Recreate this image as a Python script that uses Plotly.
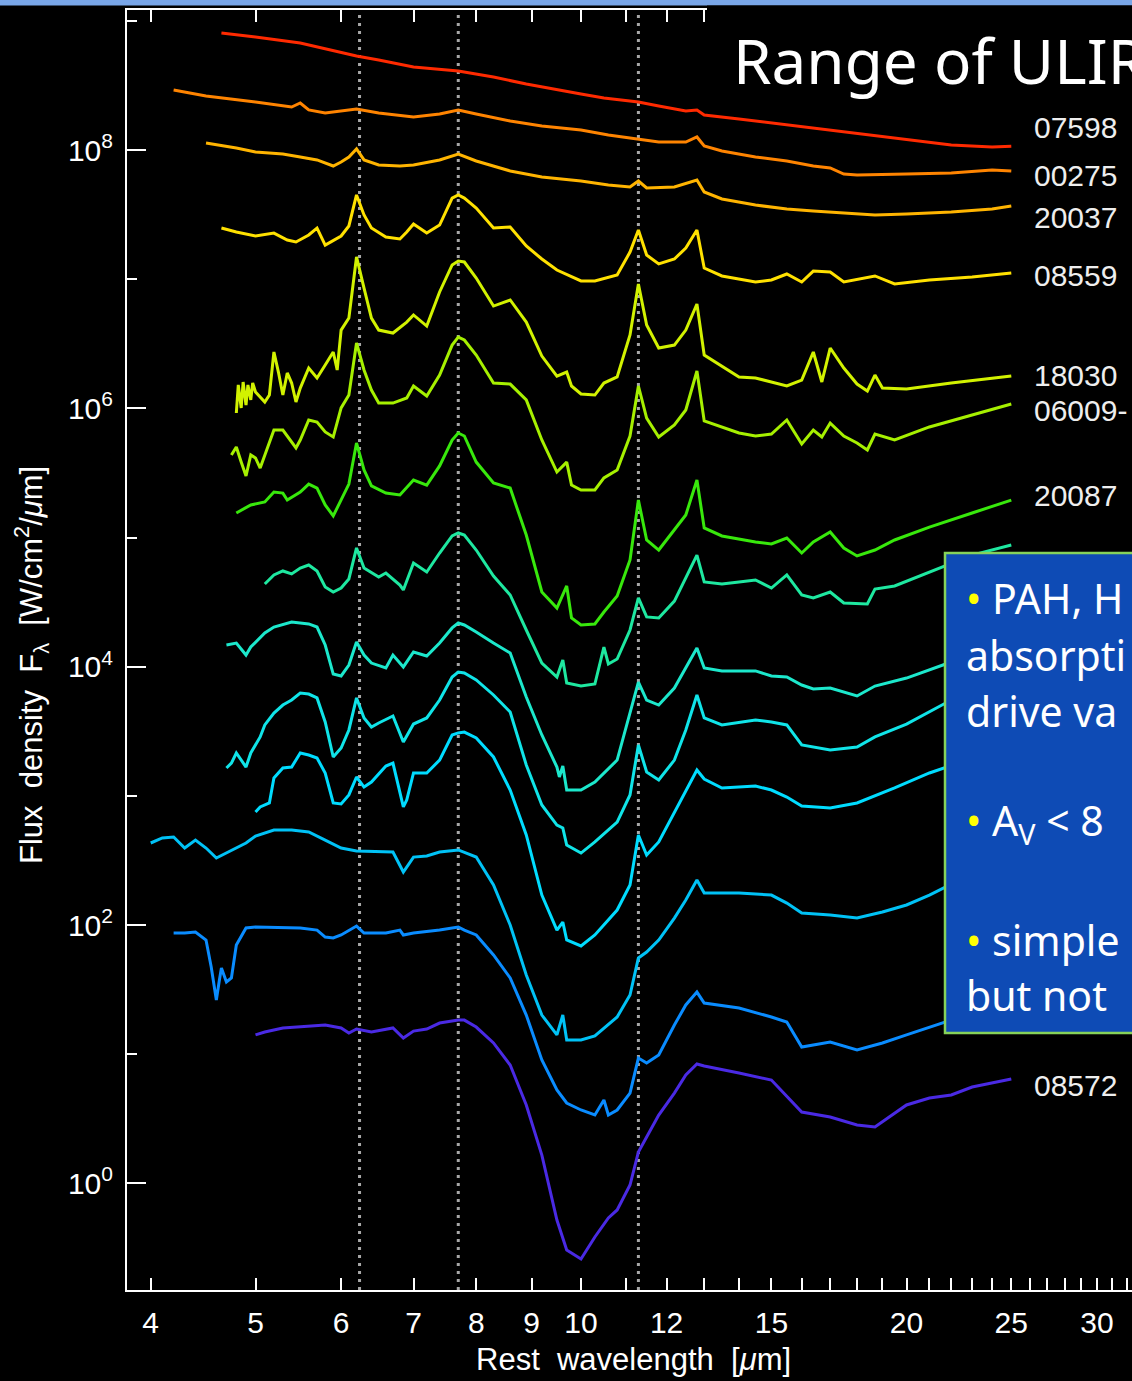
import plotly.graph_objects as go

# ---------------- data (wavelength in micron, log10 of F_lambda in W/cm2/micron) ----------------
wl_07598 = [4.65, 5.0, 5.5, 6.0, 6.2, 6.5, 7.0, 7.7, 8.3, 8.9, 9.5, 10.0, 10.5, 11.3, 11.8, 12.5, 12.8, 13.0,
            14.0, 15.0, 16.0, 17.0, 18.0, 20.0, 22.0, 24.0, 25.0]
lf_07598 = [8.906, 8.875, 8.828, 8.759, 8.728, 8.697, 8.643, 8.612, 8.565, 8.511, 8.465, 8.434, 8.403, 8.372,
            8.341, 8.302, 8.310, 8.271, 8.240, 8.209, 8.178, 8.155, 8.124, 8.077, 8.039, 8.023, 8.030]

wl_00275 = [4.2, 4.5, 5.0, 5.4, 5.5, 5.6, 5.8, 6.2, 6.5, 7.0, 7.4, 7.7, 8.0, 8.6, 9.2, 10.0, 10.6, 11.3, 11.8,
            12.5, 12.8, 13.0, 13.5, 14.5, 15.5, 16.4, 17.0, 17.5, 18.0, 20.0, 22.0, 24.0, 25.0]
lf_00275 = [8.465, 8.418, 8.371, 8.333, 8.364, 8.310, 8.286, 8.317, 8.286, 8.255, 8.279, 8.310, 8.279, 8.224,
            8.186, 8.155, 8.116, 8.085, 8.062, 8.062, 8.101, 8.031, 7.992, 7.946, 7.915, 7.876, 7.861, 7.814,
            7.806, 7.814, 7.822, 7.845, 7.837]

wl_20037 = [4.5, 4.8, 5.0, 5.3, 5.5, 5.7, 5.9, 6.0, 6.1, 6.2, 6.3, 6.5, 6.8, 7.0, 7.4, 7.7, 8.0, 8.6, 9.2, 10.0,
            10.6, 11.1, 11.3, 11.5, 12.2, 12.8, 13.0, 13.5, 14.5, 15.5, 16.4, 17.5, 18.7, 20.0, 22.0, 24.0, 25.0]
lf_20037 = [8.054, 8.015, 7.984, 7.969, 7.946, 7.923, 7.876, 7.907, 7.946, 8.008, 7.923, 7.884, 7.876, 7.884,
            7.923, 7.969, 7.915, 7.838, 7.791, 7.760, 7.729, 7.714, 7.760, 7.706, 7.714, 7.768, 7.675, 7.621,
            7.574, 7.543, 7.528, 7.512, 7.497, 7.505, 7.520, 7.543, 7.566]

wl_08559 = [4.65, 4.8, 5.0, 5.2, 5.35, 5.45, 5.6, 5.7, 5.8, 6.0, 6.1, 6.2, 6.3, 6.4, 6.6, 6.8, 6.9, 7.0, 7.2, 7.4,
            7.6, 7.7, 7.8, 8.0, 8.3, 8.6, 8.9, 9.2, 9.5, 9.8, 10.0, 10.3, 10.8, 11.1, 11.3, 11.5, 11.8, 12.2,
            12.5, 12.8, 13.0, 13.5, 14.5, 15.0, 15.5, 16.0, 16.4, 17.0, 17.5, 18.7, 19.5, 21.0, 23.0, 25.0]
lf_08559 = [7.396, 7.365, 7.334, 7.357, 7.303, 7.288, 7.342, 7.396, 7.264, 7.334, 7.412, 7.652, 7.497, 7.396,
            7.326, 7.311, 7.365, 7.427, 7.357, 7.419, 7.628, 7.652, 7.628, 7.551, 7.396, 7.404, 7.257, 7.156,
            7.071, 7.017, 6.986, 6.986, 7.032, 7.210, 7.381, 7.187, 7.118, 7.156, 7.241, 7.381, 7.086, 7.025,
            6.978, 6.994, 7.040, 6.978, 7.063, 7.056, 6.978, 7.025, 6.963, 6.994, 7.017, 7.048]

wl_18030 = [4.8, 4.82, 4.85, 4.87, 4.9, 4.92, 4.95, 4.97, 5.0, 5.1, 5.15, 5.2, 5.25, 5.3, 5.35, 5.4, 5.45, 5.5,
            5.6, 5.7, 5.8, 5.9, 5.95, 6.0, 6.1, 6.2, 6.3, 6.4, 6.5, 6.7, 6.9, 7.0, 7.2, 7.4, 7.6, 7.7, 7.8, 8.0,
            8.3, 8.6, 8.9, 9.2, 9.5, 9.7, 9.8, 10.0, 10.3, 10.5, 10.8, 11.1, 11.3, 11.5, 11.8, 12.2, 12.5, 12.8,
            13.0, 13.5, 14.0, 14.5, 15.0, 15.5, 16.0, 16.4, 16.7, 17.0, 17.5, 18.0, 18.4, 18.7, 19.0, 20.0, 22.0,
            24.0, 25.0]
lf_18030 = [5.964, 6.181, 6.003, 6.204, 6.026, 6.181, 6.065, 6.196, 6.126, 6.049, 6.103, 6.436, 6.281, 6.103,
            6.274, 6.196, 6.049, 6.157, 6.312, 6.235, 6.335, 6.436, 6.297, 6.606, 6.699, 7.172, 6.931, 6.699,
            6.606, 6.583, 6.668, 6.723, 6.637, 6.901, 7.110, 7.141, 7.133, 7.009, 6.792, 6.839, 6.668, 6.405,
            6.250, 6.281, 6.173, 6.111, 6.103, 6.196, 6.243, 6.568, 6.963, 6.645, 6.467, 6.490, 6.606, 6.808,
            6.413, 6.328, 6.243, 6.235, 6.204, 6.173, 6.219, 6.436, 6.204, 6.467, 6.312, 6.188, 6.134, 6.258,
            6.157, 6.150, 6.196, 6.235, 6.250]

wl_06009 = [4.75, 4.8, 4.85, 4.9, 4.95, 5.0, 5.05, 5.1, 5.2, 5.3, 5.4, 5.45, 5.5, 5.6, 5.7, 5.8, 5.9, 6.0, 6.1,
            6.2, 6.3, 6.4, 6.5, 6.7, 6.9, 7.0, 7.2, 7.4, 7.6, 7.7, 7.8, 8.0, 8.3, 8.6, 8.9, 9.2, 9.5, 9.7, 9.8,
            10.0, 10.3, 10.5, 10.8, 11.1, 11.3, 11.5, 11.8, 12.2, 12.5, 12.8, 13.0, 13.5, 14.0, 14.5, 15.0, 15.5,
            16.0, 16.4, 16.7, 17.0, 17.5, 18.0, 18.4, 18.7, 19.5, 21.0, 23.0, 25.0]
lf_06009 = [5.639, 5.701, 5.584, 5.476, 5.639, 5.616, 5.538, 5.639, 5.832, 5.832, 5.732, 5.693, 5.755, 5.910,
            5.894, 5.817, 5.778, 6.003, 6.103, 6.506, 6.297, 6.142, 6.041, 6.041, 6.080, 6.173, 6.096, 6.258,
            6.490, 6.552, 6.529, 6.413, 6.196, 6.188, 6.065, 5.755, 5.507, 5.584, 5.406, 5.368, 5.368, 5.461,
            5.522, 5.786, 6.173, 5.925, 5.778, 5.871, 5.987, 6.289, 5.902, 5.856, 5.809, 5.786, 5.801, 5.910,
            5.724, 5.832, 5.778, 5.886, 5.786, 5.732, 5.678, 5.801, 5.755, 5.856, 5.948, 6.034]

wl_20087 = [4.8, 4.95, 5.1, 5.2, 5.3, 5.35, 5.5, 5.6, 5.7, 5.8, 5.9, 6.0, 6.1, 6.2, 6.3, 6.4, 6.6, 6.8, 7.0, 7.2,
            7.4, 7.6, 7.7, 7.8, 8.0, 8.3, 8.6, 8.9, 9.2, 9.5, 9.7, 9.8, 10.0, 10.3, 10.5, 10.8, 11.1, 11.3, 11.5,
            11.8, 12.2, 12.5, 12.8, 13.0, 13.5, 14.5, 15.0, 15.5, 16.0, 16.4, 17.0, 17.5, 18.0, 18.7, 19.5, 21.0,
            23.0, 25.0]
lf_20087 = [5.190, 5.252, 5.275, 5.352, 5.344, 5.290, 5.352, 5.414, 5.383, 5.252, 5.167, 5.290, 5.414, 5.732,
            5.523, 5.399, 5.344, 5.329, 5.445, 5.406, 5.554, 5.755, 5.809, 5.786, 5.584, 5.422, 5.383, 5.019,
            4.578, 4.454, 4.625, 4.377, 4.323, 4.331, 4.423, 4.547, 4.826, 5.290, 4.981, 4.903, 5.058, 5.174,
            5.445, 5.074, 5.012, 4.965, 4.950, 4.996, 4.880, 4.965, 5.043, 4.919, 4.857, 4.903, 4.981, 5.081,
            5.190, 5.290]

wl_spec8 = [5.1, 5.2, 5.3, 5.4, 5.5, 5.6, 5.7, 5.8, 5.9, 6.0, 6.1, 6.2, 6.3, 6.5, 6.6, 6.8, 6.85, 7.0, 7.2, 7.4,
            7.6, 7.7, 7.8, 8.0, 8.3, 8.6, 8.9, 9.2, 9.5, 9.62, 9.7, 10.0, 10.3, 10.5, 10.6, 10.8, 11.1, 11.3,
            11.5, 11.8, 12.2, 12.5, 12.8, 13.0, 13.5, 14.0, 14.5, 15.0, 15.5, 16.0, 16.4, 17.0, 17.5, 18.4, 18.7,
            19.5, 21.0, 23.0, 25.0]
lf_spec8 = [4.640, 4.710, 4.741, 4.718, 4.764, 4.787, 4.741, 4.617, 4.578, 4.609, 4.679, 4.919, 4.764, 4.694,
            4.725, 4.632, 4.594, 4.803, 4.733, 4.880, 5.012, 5.035, 5.019, 4.903, 4.702, 4.555, 4.284, 4.028,
            3.920, 4.052, 3.874, 3.850, 3.866, 4.152, 4.021, 4.059, 4.284, 4.532, 4.385, 4.377, 4.508, 4.686,
            4.864, 4.656, 4.640, 4.656, 4.671, 4.609, 4.710, 4.555, 4.532, 4.578, 4.493, 4.485, 4.601, 4.625,
            4.733, 4.864, 4.942]

wl_spec9 = [4.7, 4.8, 4.9, 4.95, 5.1, 5.2, 5.4, 5.6, 5.7, 5.8, 5.9, 6.0, 6.1, 6.2, 6.3, 6.4, 6.6, 6.7, 6.85, 7.0,
            7.2, 7.4, 7.6, 7.7, 7.8, 8.0, 8.3, 8.6, 8.9, 9.2, 9.5, 9.55, 9.62, 9.7, 10.0, 10.3, 10.8, 11.1, 11.3,
            11.5, 11.8, 12.2, 12.5, 12.8, 13.0, 13.5, 14.5, 15.0, 15.5, 16.0, 16.4, 17.0, 18.0, 18.7, 20.0, 22.0,
            25.0]
lf_spec9 = [4.168, 4.183, 4.090, 4.152, 4.261, 4.307, 4.346, 4.331, 4.307, 4.168, 3.943, 3.928, 4.013, 4.191,
            4.090, 4.028, 3.990, 4.090, 3.998, 4.114, 4.083, 4.183, 4.300, 4.338, 4.323, 4.269, 4.183, 4.106,
            3.765, 3.471, 3.223, 3.146, 3.231, 3.045, 3.045, 3.107, 3.277, 3.634, 3.881, 3.742, 3.703, 3.835,
            3.990, 4.145, 3.990, 3.967, 3.967, 3.928, 3.920, 3.858, 3.827, 3.835, 3.773, 3.850, 3.912, 4.036,
            4.222]

wl_spec10 = [4.7, 4.75, 4.8, 4.9, 4.95, 5.05, 5.1, 5.2, 5.3, 5.4, 5.5, 5.6, 5.7, 5.8, 5.9, 6.0, 6.1, 6.2, 6.3,
             6.4, 6.5, 6.7, 6.85, 7.0, 7.2, 7.4, 7.6, 7.7, 7.8, 8.0, 8.3, 8.6, 8.9, 9.2, 9.5, 9.62, 9.7, 10.0,
             10.3, 10.8, 11.1, 11.3, 11.5, 11.8, 12.2, 12.5, 12.8, 13.0, 13.5, 14.5, 15.0, 15.5, 16.0, 17.0, 18.0,
             18.7, 20.0, 22.0, 25.0]
lf_spec10 = [3.216, 3.254, 3.332, 3.223, 3.332, 3.456, 3.549, 3.641, 3.703, 3.742, 3.796, 3.788, 3.758, 3.572,
             3.301, 3.370, 3.510, 3.758, 3.603, 3.533, 3.564, 3.618, 3.417, 3.556, 3.603, 3.742, 3.920, 3.959,
             3.951, 3.897, 3.781, 3.649, 3.239, 2.929, 2.774, 2.751, 2.619, 2.557, 2.643, 2.797, 3.007, 3.394,
             3.185, 3.123, 3.277, 3.510, 3.781, 3.603, 3.549, 3.587, 3.572, 3.549, 3.394, 3.355, 3.378, 3.456,
             3.556, 3.742, 3.897]

wl_spec11 = [5.0, 5.05, 5.15, 5.2, 5.3, 5.4, 5.5, 5.6, 5.7, 5.8, 5.9, 6.0, 6.1, 6.2, 6.3, 6.4, 6.6, 6.7, 6.85,
             6.9, 7.0, 7.2, 7.4, 7.6, 7.7, 7.8, 8.0, 8.3, 8.6, 8.9, 9.2, 9.5, 9.62, 9.7, 10.0, 10.3, 10.8, 11.1,
             11.3, 11.5, 11.8, 12.2, 12.5, 12.8, 13.0, 13.5, 14.5, 15.0, 15.5, 16.0, 17.0, 18.0, 19.5, 21.0, 25.0]
lf_spec11 = [2.875, 2.914, 2.945, 3.138, 3.216, 3.223, 3.332, 3.316, 3.293, 3.177, 2.945, 2.937, 3.007, 3.146,
             3.068, 3.107, 3.231, 3.254, 2.914, 2.968, 3.177, 3.177, 3.277, 3.471, 3.487, 3.494, 3.448, 3.301,
             3.045, 2.697, 2.232, 1.961, 2.023, 1.884, 1.838, 1.923, 2.116, 2.310, 2.697, 2.542, 2.643, 2.875,
             3.045, 3.200, 3.130, 3.061, 3.076, 3.045, 2.991, 2.921, 2.906, 2.945, 3.061, 3.177, 3.394]

wl_spec12 = [4.0, 4.1, 4.2, 4.3, 4.4, 4.5, 4.6, 4.7, 4.8, 4.9, 5.0, 5.2, 5.4, 5.6, 5.8, 6.0, 6.2, 6.5, 6.7, 6.85,
             7.0, 7.2, 7.4, 7.7, 8.0, 8.3, 8.6, 8.9, 9.2, 9.5, 9.62, 9.7, 10.0, 10.3, 10.8, 11.1, 11.3, 11.5,
             11.8, 12.2, 12.5, 12.8, 13.0, 14.0, 15.0, 15.5, 16.0, 17.0, 18.0, 19.0, 20.0, 21.0, 22.0, 25.0]
lf_spec12 = [2.635, 2.674, 2.681, 2.596, 2.658, 2.596, 2.519, 2.557, 2.596, 2.635, 2.689, 2.735, 2.735, 2.720,
             2.658, 2.596, 2.573, 2.565, 2.565, 2.410, 2.526, 2.534, 2.565, 2.581, 2.526, 2.310, 2.000, 1.613,
             1.303, 1.149, 1.303, 1.110, 1.110, 1.141, 1.288, 1.458, 1.745, 1.791, 1.884, 2.054, 2.194, 2.348,
             2.248, 2.248, 2.232, 2.170, 2.093, 2.077, 2.054, 2.101, 2.155, 2.232, 2.317, 2.503]

wl_spec13 = [4.2, 4.3, 4.4, 4.5, 4.55, 4.6, 4.63, 4.65, 4.7, 4.75, 4.8, 4.9, 5.0, 5.5, 5.7, 5.8, 5.9, 6.0, 6.2,
             6.3, 6.6, 6.8, 6.85, 7.0, 7.4, 7.7, 7.8, 8.0, 8.3, 8.6, 8.9, 9.2, 9.5, 9.7, 10.0, 10.3, 10.5, 10.6,
             10.8, 11.1, 11.3, 11.5, 11.8, 12.2, 12.5, 12.8, 13.0, 14.0, 15.0, 15.5, 16.0, 17.0, 18.0, 19.0, 20.0,
             22.0, 25.0]
lf_spec13 = [1.938, 1.938, 1.946, 1.884, 1.675, 1.419, 1.574, 1.667, 1.559, 1.590, 1.845, 1.977, 1.985, 1.977,
             1.961, 1.907, 1.900, 1.923, 1.992, 1.938, 1.938, 1.961, 1.923, 1.938, 1.961, 1.985, 1.961, 1.923,
             1.768, 1.590, 1.303, 0.955, 0.723, 0.622, 0.568, 0.529, 0.645, 0.529, 0.568, 0.699, 0.970, 0.932,
             0.994, 1.226, 1.381, 1.481, 1.396, 1.357, 1.288, 1.249, 1.055, 1.094, 1.032, 1.087, 1.149, 1.264,
             1.419]

wl_08572 = [5.0, 5.1, 5.3, 5.6, 5.8, 6.0, 6.1, 6.2, 6.4, 6.7, 6.85, 7.0, 7.2, 7.4, 7.7, 7.8, 8.0, 8.3, 8.6, 8.9,
            9.2, 9.5, 9.7, 10.0, 10.3, 10.6, 10.8, 11.1, 11.3, 11.5, 11.8, 12.2, 12.5, 12.8, 13.0, 14.0, 15.0,
            16.0, 17.0, 18.0, 18.7, 20.0, 21.0, 22.0, 23.0, 25.0]
lf_08572 = [1.149, 1.172, 1.203, 1.218, 1.226, 1.203, 1.164, 1.195, 1.172, 1.203, 1.125, 1.179, 1.195, 1.241,
            1.264, 1.264, 1.210, 1.087, 0.916, 0.607, 0.219, -0.284, -0.516, -0.586, -0.415, -0.268, -0.206,
            -0.013, 0.242, 0.359, 0.529, 0.699, 0.839, 0.924, 0.909, 0.854, 0.800, 0.552, 0.514, 0.452, 0.436,
            0.607, 0.661, 0.684, 0.746, 0.808]

spectrum_names = ["07598", "00275", "20037", "08559", "18030", "06009", "20087",
                  "spec8", "spec9", "spec10", "spec11", "spec12", "spec13", "08572"]
spectrum_wl = [wl_07598, wl_00275, wl_20037, wl_08559, wl_18030, wl_06009, wl_20087,
               wl_spec8, wl_spec9, wl_spec10, wl_spec11, wl_spec12, wl_spec13, wl_08572]
spectrum_lf = [lf_07598, lf_00275, lf_20037, lf_08559, lf_18030, lf_06009, lf_20087,
               lf_spec8, lf_spec9, lf_spec10, lf_spec11, lf_spec12, lf_spec13, lf_08572]
spectrum_colors = ["#ff2a00", "#ff8400", "#ffb400", "#ffe100", "#d2f200", "#a6f000", "#38e80c",
                   "#1ee8a0", "#1ce8cc", "#10e4e8", "#00dcff", "#00c2f6", "#0a8cff", "#4a2ae4"]

right_labels = ["07598", "00275", "20037", "08559", "18030", "06009-", "20087", "08572"]

feature_wavelengths = [6.24, 7.7, 11.3]

x_major = [5, 10, 15, 20, 25, 30]
x_labeled = [4, 5, 6, 7, 8, 9, 10, 12, 15, 20, 25, 30]
x_minor = [4, 6, 7, 8, 9, 11, 12, 13, 14, 16, 17, 18, 19, 21, 22, 23, 24, 26, 27, 28, 29, 31, 32]
y_major = [1e0, 1e2, 1e4, 1e6, 1e8]
y_major_text = ["10<sup>0</sup>", "10<sup>2</sup>", "10<sup>4</sup>", "10<sup>6</sup>", "10<sup>8</sup>"]
y_minor = [1e1, 1e3, 1e5, 1e7, 1e9]

for w, v in zip(spectrum_wl, spectrum_lf):
    assert len(w) == len(v), (len(w), len(v))

# ---------------- layout geometry ----------------
W, H = 1132, 1381
ML, MR, MT, MB = 127, 0, 10, 91
PW, PH = W - ML - MR, H - MT - MB
X_RANGE = [0.58013, 1.50957]
Y_RANGE = [-0.8256, 9.0839]


def px(x):
    return (x - ML) / PW


def py(y):
    return (H - MB - y) / PH


fig = go.Figure()

# dotted feature lines (drawn first, below spectra)
for fw in feature_wavelengths:
    fig.add_trace(go.Scatter(x=[fw, fw], y=[10 ** Y_RANGE[0], 10 ** Y_RANGE[1]], mode="lines",
                             line=dict(color="#a8a8a8", width=3, dash="3px,5px"),
                             hoverinfo="skip", showlegend=False))

for name, w, v, c in zip(spectrum_names, spectrum_wl, spectrum_lf, spectrum_colors):
    fig.add_trace(go.Scatter(x=w, y=[10 ** t for t in v], mode="lines", name=name,
                             line=dict(color=c, width=3), showlegend=False))

tickfont = dict(family="Liberation Sans", size=30, color="white")

fig.update_layout(
    width=W, height=H,
    paper_bgcolor="black", plot_bgcolor="black",
    margin=dict(l=ML, r=MR, t=MT, b=MB, pad=0),
    showlegend=False,
    font=dict(family="Liberation Sans", color="white"),
    xaxis=dict(type="log", range=X_RANGE, showgrid=False, zeroline=False,
               showline=True, linecolor="white", linewidth=2, mirror="ticks",
               tickmode="array", tickvals=x_labeled, ticktext=[str(t) for t in x_labeled],
               ticks="inside", ticklen=12, tickwidth=2, tickcolor="white",
               tickfont=tickfont, ticklabelstandoff=5,
               minor=dict(tickmode="array", tickvals=x_minor, ticks="inside", ticklen=12,
                          tickwidth=2, tickcolor="white", showgrid=False)),
    xaxis2=dict(type="log", range=X_RANGE, overlaying="x", anchor="y", side="bottom",
                showgrid=False, zeroline=False, showline=True, linecolor="white", linewidth=2,
                mirror="ticks", tickmode="array", tickvals=x_major, ticks="inside", ticklen=22,
                tickwidth=2, tickcolor="white", showticklabels=False),
    yaxis=dict(type="log", range=Y_RANGE, showgrid=False, zeroline=False,
               showline=True, linecolor="white", linewidth=2, mirror=False,
               tickmode="array", tickvals=y_major, ticktext=y_major_text,
               ticks="inside", ticklen=19, tickwidth=2, tickcolor="white",
               tickfont=tickfont, ticklabelstandoff=6,
               minor=dict(tickmode="array", tickvals=y_minor, ticks="inside", ticklen=10,
                          tickwidth=2, tickcolor="white", showgrid=False)),
)

shapes = [
    # slide header strip
    dict(type="rect", xref="paper", yref="paper", x0=px(-5), x1=px(W + 5), y0=py(5.5), y1=py(-2),
         fillcolor="#79a6e8", line=dict(width=0), layer="above"),
    # black background of the title (hides the top axis there)
    dict(type="rect", xref="paper", yref="paper", x0=px(707), x1=px(W + 5), y0=py(37), y1=py(5.5),
         fillcolor="black", line=dict(width=0), layer="above"),
    # blue text box
    dict(type="rect", xref="paper", yref="paper", x0=px(945), x1=px(W + 20), y0=py(1033), y1=py(553),
         fillcolor="#0e4bb5", line=dict(color="#86d25a", width=2.5), layer="above"),
]
fig.update_layout(shapes=shapes)

ann = []
# axis titles
ann.append(dict(text="Rest  wavelength  [<i>μ</i>m]", xref="paper", yref="paper", x=px(633), y=py(1359),
                xanchor="center", yanchor="middle", showarrow=False,
                font=dict(family="Liberation Sans", size=31, color="white")))
ann.append(dict(text="Flux  density  F<sub>λ</sub>  [W/cm<sup>2</sup>/<i>μ</i>m]", xref="paper",
                yref="paper", x=px(31), y=py(665), textangle=-90, xanchor="center", yanchor="middle",
                showarrow=False, font=dict(family="Liberation Sans", size=31, color="white")))
# right-hand object labels
label_y_px = [128, 175, 218, 275, 376, 411, 495, 1085]
for txt, ly in zip(right_labels, label_y_px):
    ann.append(dict(text=txt, xref="paper", yref="paper", x=px(1032), y=py(ly), xanchor="left",
                    yanchor="middle", showarrow=False,
                    font=dict(family="Liberation Sans", size=30, color="#eeeeee")))
# title
ann.append(dict(text="Range of ULIRGs", xref="paper", yref="paper", x=px(731), y=py(60), xanchor="left",
                yanchor="middle", showarrow=False,
                font=dict(family="Noto Sans", size=62, color="white")))
# text box lines
bullet = "<span style='color:#ffff00'>•</span> "
box_lines = [(bullet + "PAH, H", 598), ("absorpti", 655), ("drive va", 711),
             (bullet + "A<sub>V</sub> &lt; 8", 822), (bullet + "simple", 940), ("but not", 995)]
for txt, ly in box_lines:
    ann.append(dict(text=txt, xref="paper", yref="paper", x=px(964), y=py(ly), xanchor="left",
                    yanchor="middle", showarrow=False,
                    font=dict(family="Noto Sans", size=41, color="white")))
fig.update_layout(annotations=ann)

fig.write_html("out.html")
